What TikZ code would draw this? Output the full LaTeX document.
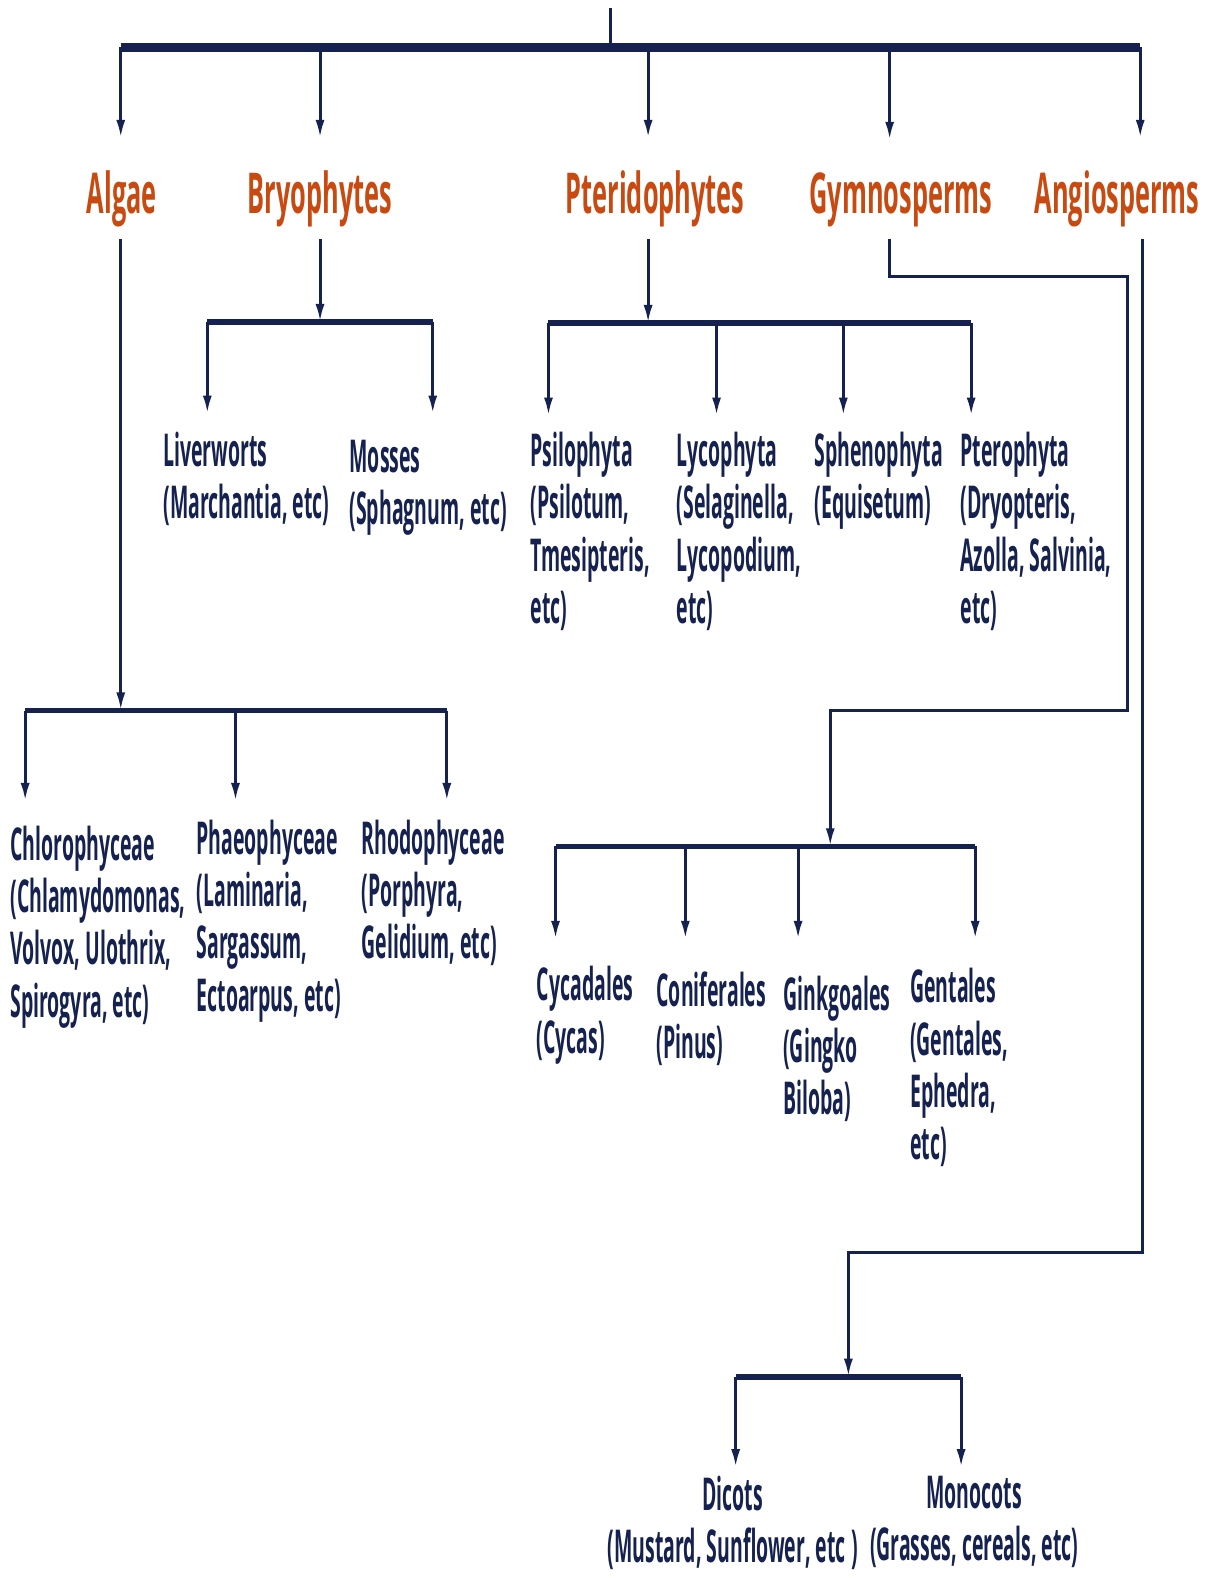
\documentclass[tikz,border=0pt]{standalone}
\usepackage{fontspec}
\setmainfont{Open Sans}
\newfontfamily\condfont[FakeStretch=0.45]{Open Sans}
\newfontfamily\narrowfont[FakeStretch=0.43]{Open Sans}
\usetikzlibrary{arrows.meta}
\definecolor{navy}{HTML}{15214F}
\definecolor{rust}{HTML}{C84A10}
\tikzset{
  group/.style={font=\condfont\bfseries\fontsize{28}{30}\selectfont, text=rust, inner sep=0pt, anchor=base},
  taxon/.style={font=\narrowfont\bfseries\fontsize{22.5}{26}\selectfont, text=navy, inner sep=0pt, align=left, anchor=north west, yshift=-1.5pt, execute at begin node=\strut},
  pair/.style={taxon, align=center, anchor=north},
  trunk/.style={navy, line width=4.2pt},
  bus/.style={navy, line width=2.8pt},
  link/.style={navy, line width=1.5pt},
  arr/.style={link, -{Latex[length=9pt,width=4.5pt]}},
}
\begin{document}
\begin{tikzpicture}[x=0.5pt,y=-0.5pt]
\path[use as bounding box, fill=white] (0,0) rectangle (1211,1568);
\node[group] (algae) at (121,212) {Algae};
\node[group] (bryo) at (318,212) {Bryophytes};
\node[group] (pterido) at (651,212) {Pteridophytes};
\node[group] (gymno) at (895,212) {Gymnosperms};
\node[group] (angio) at (1110,212) {Angiosperms};
\node[taxon] (liver) at (162,426) {Liverworts\\(Marchantia, etc)};
\node[taxon] (moss) at (347,434) {Mosses\\(Sphagnum, etc)};
\node[taxon] (psilo) at (527,426) {Psilophyta\\(Psilotum,\\Tmesipteris,\\etc)};
\node[taxon] (lyco) at (672,426) {Lycophyta\\(Selaginella,\\Lycopodium,\\etc)};
\node[taxon] (spheno) at (809,426) {Sphenophyta\\(Equisetum)};
\node[taxon] (ptero) at (954,426) {Pterophyta\\(Dryopteris,\\Azolla, Salvinia,\\etc)};
\node[taxon] (chloro) at (10,817) {Chlorophyceae\\(Chlamydomonas,\\Volvox, Ulothrix,\\Spirogyra, etc)};
\node[taxon] (phaeo) at (195,811) {Phaeophyceae\\(Laminaria,\\Sargassum,\\Ectoarpus, etc)};
\node[taxon] (rhodo) at (359,811) {Rhodophyceae\\(Porphyra,\\Gelidium, etc)};
\node[taxon] (cycad) at (533,957) {Cycadales\\(Cycas)};
\node[taxon] (conif) at (652,962) {Coniferales\\(Pinus)};
\node[taxon] (ginkgo) at (778,966) {Ginkgoales\\(Gingko\\Biloba)};
\node[taxon] (gent) at (904,959) {Gentales\\(Gentales,\\Ephedra,\\etc)};
\node[pair] (dicot) at (728,1463) {Dicots\\(Mustard, Sunflower, etc )};
\node[pair] (monocot) at (968,1463) {Monocots\\(Grasses, cereals, etc)};
\coordinate (root) at (607,8);
\coordinate (tA) at (120,47);
\coordinate (tB) at (318,47);
\coordinate (tP) at (644,47);
\coordinate (tG) at (884,47);
\coordinate (tN) at (1133,47);
\draw[link] (root) -- (root |- tA);
\draw[trunk] (tA) -- (tN);
\foreach \t/\n in {tA/algae, tB/bryo, tP/pterido, tG/gymno, tN/angio}
  \draw[arr, shorten >=16pt] (\t) -- (\t |- \n.north);
\coordinate (bJ) at (318,320);
\coordinate (b1) at (206,320);
\coordinate (b2) at (430,320);
\draw[arr, shorten <=6pt] (bJ |- bryo.south) -- (bJ);
\draw[bus] (b1) -- (b2);
\draw[arr, shorten >=9pt] (b1) -- (b1 |- liver.north);
\draw[arr, shorten >=13pt] (b2) -- (b2 |- moss.north);
\coordinate (pJ) at (644,321);
\coordinate (p1) at (545,321);
\coordinate (p2) at (712,321);
\coordinate (p3) at (838,321);
\coordinate (p4) at (965,321);
\draw[arr, shorten <=6pt] (pJ |- pterido.south) -- (pJ);
\draw[bus] (p1) -- (p4);
\foreach \p/\n in {p1/psilo, p2/lyco, p3/spheno, p4/ptero}
  \draw[arr, shorten >=8pt] (\p) -- (\p |- \n.north);
\coordinate (aJ) at (120,706);
\coordinate (a1) at (25,706);
\coordinate (a2) at (234,706);
\coordinate (a3) at (444,706);
\draw[arr, shorten <=6pt] (aJ |- algae.south) -- (aJ);
\draw[bus] (a1) -- (a3);
\foreach \a/\n/\s in {a1/chloro/12pt, a2/phaeo/9pt, a3/rhodo/9pt}
  \draw[arr, shorten >=\s] (\a) -- (\a |- \n.north);
\coordinate (gx) at (884,275);
\coordinate (gy) at (1120,706);
\coordinate (gJ) at (825,841);
\coordinate (g1) at (552,841);
\coordinate (g2) at (681,841);
\coordinate (g3) at (793,841);
\coordinate (g4) at (969,841);
\draw[arr, shorten <=6pt] (gx |- gymno.south) -- (gx) -| (gy) -| (gJ);
\draw[bus] (g1) -- (g4);
\foreach \g/\n/\s in {g1/cycad/13.5pt, g2/conif/16pt, g3/ginkgo/18pt, g4/gent/14.5pt}
  \draw[arr, shorten >=\s] (\g) -- (\g |- \n.north);
\coordinate (nx) at (1135,1245);
\coordinate (nJ) at (843,1368);
\coordinate (n1) at (731,1368);
\coordinate (n2) at (955,1368);
\draw[arr, shorten <=6pt] (nx |- angio.south) -- (nx) -| (nJ);
\draw[bus] (n1) -- (n2);
\draw[arr, shorten >=4pt] (n1) -- (n1 |- dicot.north);
\draw[arr, shorten >=4pt] (n2) -- (n2 |- monocot.north);
\end{tikzpicture}
\end{document}
